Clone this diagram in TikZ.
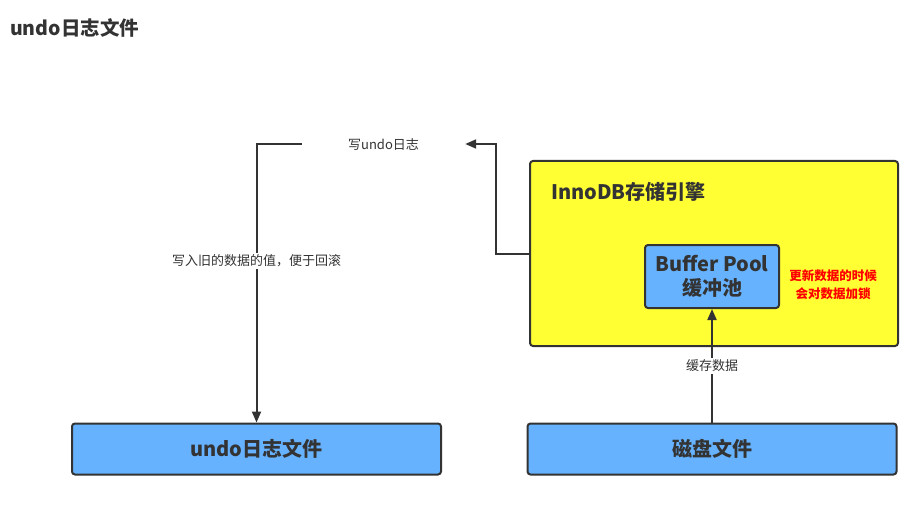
\documentclass[tikz,border=0pt]{standalone}
\usepackage{fontspec}
\setmainfont{Noto Sans CJK SC}
\usetikzlibrary{arrows.meta}
\definecolor{inkgray}{HTML}{333333}
\definecolor{poolblue}{HTML}{66B2FF}
\definecolor{engineyellow}{HTML}{FFFF33}
\tikzset{
  box/.style={draw=inkgray, line width=2pt, rounded corners=3pt,
              fill=poolblue, text=inkgray, font=\fontsize{20}{23}\selectfont\bfseries},
  arr/.style={draw=inkgray, line width=2pt,
              -{Triangle[length=11pt,width=9pt]}},
  lbl/.style={fill=white, text=inkgray, inner sep=2pt,
              font=\fontsize{13}{15}\selectfont}
}
\begin{document}
\begin{tikzpicture}[x=1pt,y=-1pt]
  \useasboundingbox (0,0) rectangle (921,508);

  % Title
  \node[anchor=west, text=inkgray, inner sep=0pt,
        font=\fontsize{19.5}{22}\selectfont\bfseries] (title) at (10,28) {undo日志文件};

  % Storage engine and its buffer pool
  \node[box, fill=engineyellow, minimum width=368pt, minimum height=185pt]
       (engine) at (714,253.5) {};
  \node[anchor=west, text=inkgray, inner sep=0pt,
        font=\fontsize{20}{23}\selectfont\bfseries] (enginetitle) at (551,192) {InnoDB存储引擎};
  \node[box, minimum width=134pt, minimum height=63pt, align=center, inner sep=0pt,
        font=\fontsize{20}{24}\selectfont\bfseries]
       (pool) at (712,276.5) {Buffer Pool\\缓冲池};
  \node[text=red, align=center, inner sep=0pt,
        font=\fontsize{12.5}{18}\selectfont\bfseries] (lock) at (833,285)
       {更新数据的时候\\会对数据加锁};

  % Files on disk
  \node[box, minimum width=369pt, minimum height=51pt] (disk) at (712,449) {磁盘文件};
  \node[box, minimum width=369pt, minimum height=51pt] (undo) at (256.5,449) {undo日志文件};

  % Writing the undo log
  \node[text=inkgray, minimum width=163pt, minimum height=20pt, inner sep=0pt,
        font=\fontsize{13}{15}\selectfont] (logtext) at (383.5,144) {写undo日志};
  \draw[arr] (engine.west) -- ++(-33,0) |- (logtext.east);
  \draw[arr] (logtext.west) -| (undo.north)
        node[lbl, pos=0.71] {写入旧的数据的值，便于回滚};

  % Loading data into the pool
  \draw[arr] (disk.north) -- (pool.south) node[lbl, midway] {缓存数据};
\end{tikzpicture}
\end{document}
